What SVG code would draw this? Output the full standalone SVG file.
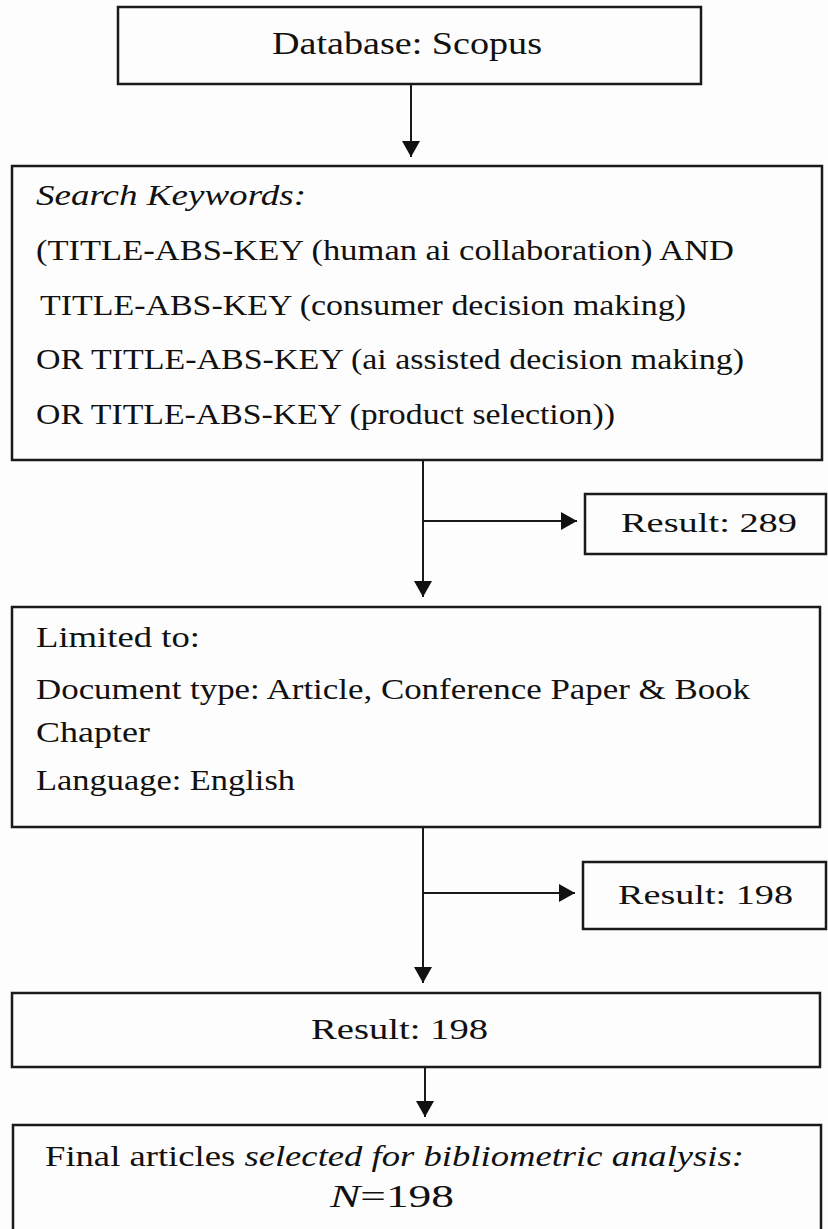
<svg xmlns="http://www.w3.org/2000/svg" width="828" height="1229" viewBox="0 0 828 1229">
<defs>
<style>
.box{fill:#fdfdfd;stroke:#1a1a1a;stroke-width:2.5}
.t{font-family:"Liberation Serif","Times New Roman",serif;font-size:29px;fill:#111}
.it{font-style:italic}
.conn{stroke:#1a1a1a;stroke-width:2;fill:none}
</style>
<marker id="ah" viewBox="0 0 16 18" refX="16" refY="9" markerWidth="16" markerHeight="18" markerUnits="userSpaceOnUse" orient="auto">
<path d="M0,0 L16,9 L0,18 Z" fill="#111"/>
</marker>
</defs>
<rect x="0" y="0" width="828" height="1229" fill="#fdfdfd"/>
<g id="connectors">
<line class="conn" x1="411" y1="84" x2="411" y2="157" marker-end="url(#ah)"/>
<line class="conn" x1="423" y1="460" x2="423" y2="597" marker-end="url(#ah)"/>
<line class="conn" x1="423" y1="521" x2="577" y2="521" marker-end="url(#ah)"/>
<line class="conn" x1="423" y1="827" x2="423" y2="983" marker-end="url(#ah)"/>
<line class="conn" x1="423" y1="893" x2="575" y2="893" marker-end="url(#ah)"/>
<line class="conn" x1="425" y1="1067" x2="425" y2="1117" marker-end="url(#ah)"/>
</g>
<g id="n1">
<rect class="box" x="118" y="7" width="583" height="77"/>
<text class="t" x="272" y="54" style="font-size:32px" textLength="270" lengthAdjust="spacingAndGlyphs">Database: Scopus</text>
</g>
<g id="n2">
<rect class="box" x="12" y="166" width="810" height="294"/>
<text class="t it" x="36" y="205" textLength="270" lengthAdjust="spacingAndGlyphs">Search Keywords:</text>
<text class="t" x="36" y="260" textLength="698" lengthAdjust="spacingAndGlyphs">(TITLE-ABS-KEY (human ai collaboration) AND</text>
<text class="t" x="40" y="315" textLength="646" lengthAdjust="spacingAndGlyphs">TITLE-ABS-KEY (consumer decision making)</text>
<text class="t" x="36" y="369" textLength="708" lengthAdjust="spacingAndGlyphs">OR TITLE-ABS-KEY (ai assisted decision making)</text>
<text class="t" x="36" y="424" textLength="579" lengthAdjust="spacingAndGlyphs">OR TITLE-ABS-KEY (product selection))</text>
</g>
<g id="n3">
<rect class="box" x="585" y="494" width="241" height="60"/>
<text class="t" x="621" y="532" style="font-size:28px" textLength="176" lengthAdjust="spacingAndGlyphs">Result: 289</text>
</g>
<g id="n4">
<rect class="box" x="12" y="607" width="808" height="220"/>
<text class="t" x="36" y="647" textLength="164" lengthAdjust="spacingAndGlyphs">Limited to:</text>
<text class="t" x="36" y="699" textLength="714" lengthAdjust="spacingAndGlyphs">Document type: Article, Conference Paper &amp; Book</text>
<text class="t" x="36" y="742" textLength="114" lengthAdjust="spacingAndGlyphs">Chapter</text>
<text class="t" x="36" y="790" textLength="259" lengthAdjust="spacingAndGlyphs">Language: English</text>
</g>
<g id="n5">
<rect class="box" x="583" y="862" width="243" height="67"/>
<text class="t" x="618" y="904" style="font-size:28px" textLength="175" lengthAdjust="spacingAndGlyphs">Result: 198</text>
</g>
<g id="n6">
<rect class="box" x="12" y="993" width="808" height="74"/>
<text class="t" x="311" y="1039" textLength="177" lengthAdjust="spacingAndGlyphs">Result: 198</text>
</g>
<g id="n7">
<rect class="box" x="13" y="1125" width="808" height="120"/>
<text class="t" x="45" y="1166" textLength="699" lengthAdjust="spacingAndGlyphs">Final articles <tspan class="it">selected for bibliometric analysis:</tspan></text>
<text class="t" x="330" y="1207" style="font-size:31px" textLength="124" lengthAdjust="spacingAndGlyphs"><tspan class="it">N</tspan>=198</text>
</g>
</svg>
